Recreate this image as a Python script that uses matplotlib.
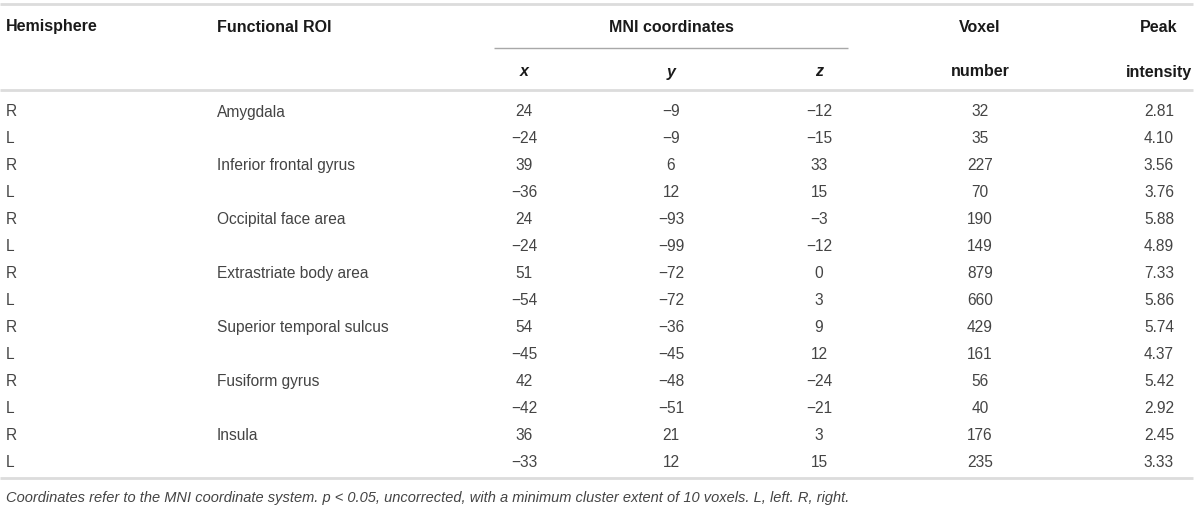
import matplotlib
matplotlib.use("Agg")
import matplotlib.pyplot as plt

plt.rcParams['font.family'] = ['Liberation Sans', 'DejaVu Sans']

# table contents
rois = ["Amygdala", "", "Inferior frontal gyrus", "", "Occipital face area", "",
        "Extrastriate body area", "", "Superior temporal sulcus", "",
        "Fusiform gyrus", "", "Insula", ""]
hemispheres = ["R", "L"] * 7
mni_x = [24, -24, 39, -36, 24, -24, 51, -54, 54, -45, 42, -42, 36, -33]
mni_y = [-9, -9, 6, 12, -93, -99, -72, -72, -36, -45, -48, -51, 21, 12]
mni_z = [-12, -15, 33, 15, -3, -12, 0, 3, 9, 12, -24, -21, 3, 15]
voxels = [32, 35, 227, 70, 190, 149, 879, 660, 429, 161, 56, 40, 176, 235]
peaks = [2.81, 4.10, 3.56, 3.76, 5.88, 4.89, 7.33, 5.86, 5.74, 4.37, 5.42, 2.92, 2.45, 3.33]
footnote = ("Coordinates refer to the MNI coordinate system. p < 0.05, uncorrected, "
            "with a minimum cluster extent of 10 voxels. L, left. R, right.")

W, H = 1200, 510
fig = plt.figure(figsize=(12, 5.1), dpi=100)
ax = fig.add_axes([0, 0, 1, 1])
ax.set_xlim(0, W)
ax.set_ylim(H, 0)
ax.axis("off")

def num(v):
    return str(v).replace("-", "\u2212")

body_col = "#444444"
head_col = "#1a1a1a"
fs = 11.2

# column positions (pixels)
col_hemi, col_roi = 6, 217
col_x, col_y, col_z, col_vox, col_peak = 524, 671, 819, 980, 1159

# rules
ax.hlines(5, 0, 1193, color="#dcdcdc", lw=2)
ax.hlines(49, 494, 848, color="#a8a8a8", lw=1)
ax.hlines(91, 0, 1193, color="#dcdcdc", lw=2)

# header
hk = dict(fontsize=11.5, fontweight="bold", color=head_col, va="center")
ax.text(col_hemi, 27, "Hemisphere", ha="left", **hk)
ax.text(col_roi, 27, "Functional ROI", ha="left", **hk)
ax.text(col_y, 27, "MNI coordinates", ha="center", **hk)
ax.text(col_vox, 27, "Voxel", ha="center", **hk)
ax.text(col_peak, 27, "Peak", ha="center", **hk)
ax.text(col_x, 72, "x", ha="center", style="italic", **hk)
ax.text(col_y, 72, "y", ha="center", style="italic", **hk)
ax.text(col_z, 72, "z", ha="center", style="italic", **hk)
ax.text(col_vox, 72, "number", ha="center", **hk)
ax.text(col_peak, 72, "intensity", ha="center", **hk)

# body rows
row0, step = 112, 27
bk = dict(fontsize=fs, color=body_col, va="center")
for i in range(len(rois)):
    yy = row0 + i * step
    ax.text(col_hemi, yy, hemispheres[i], ha="left", **bk)
    ax.text(col_roi, yy, rois[i], ha="left", **bk)
    ax.text(col_x, yy, num(mni_x[i]), ha="center", **bk)
    ax.text(col_y, yy, num(mni_y[i]), ha="center", **bk)
    ax.text(col_z, yy, num(mni_z[i]), ha="center", **bk)
    ax.text(col_vox, yy, str(voxels[i]), ha="center", **bk)
    ax.text(col_peak, yy, "%.2f" % peaks[i], ha="center", **bk)

last = row0 + (len(rois) - 1) * step
ax.hlines(last + 16, 0, 1193, color="#dcdcdc", lw=2)
ax.text(col_hemi, last + 35, footnote, ha="left", va="center",
        fontsize=10.5, style="italic", color=body_col)

fig.savefig("out.png", dpi=100)
